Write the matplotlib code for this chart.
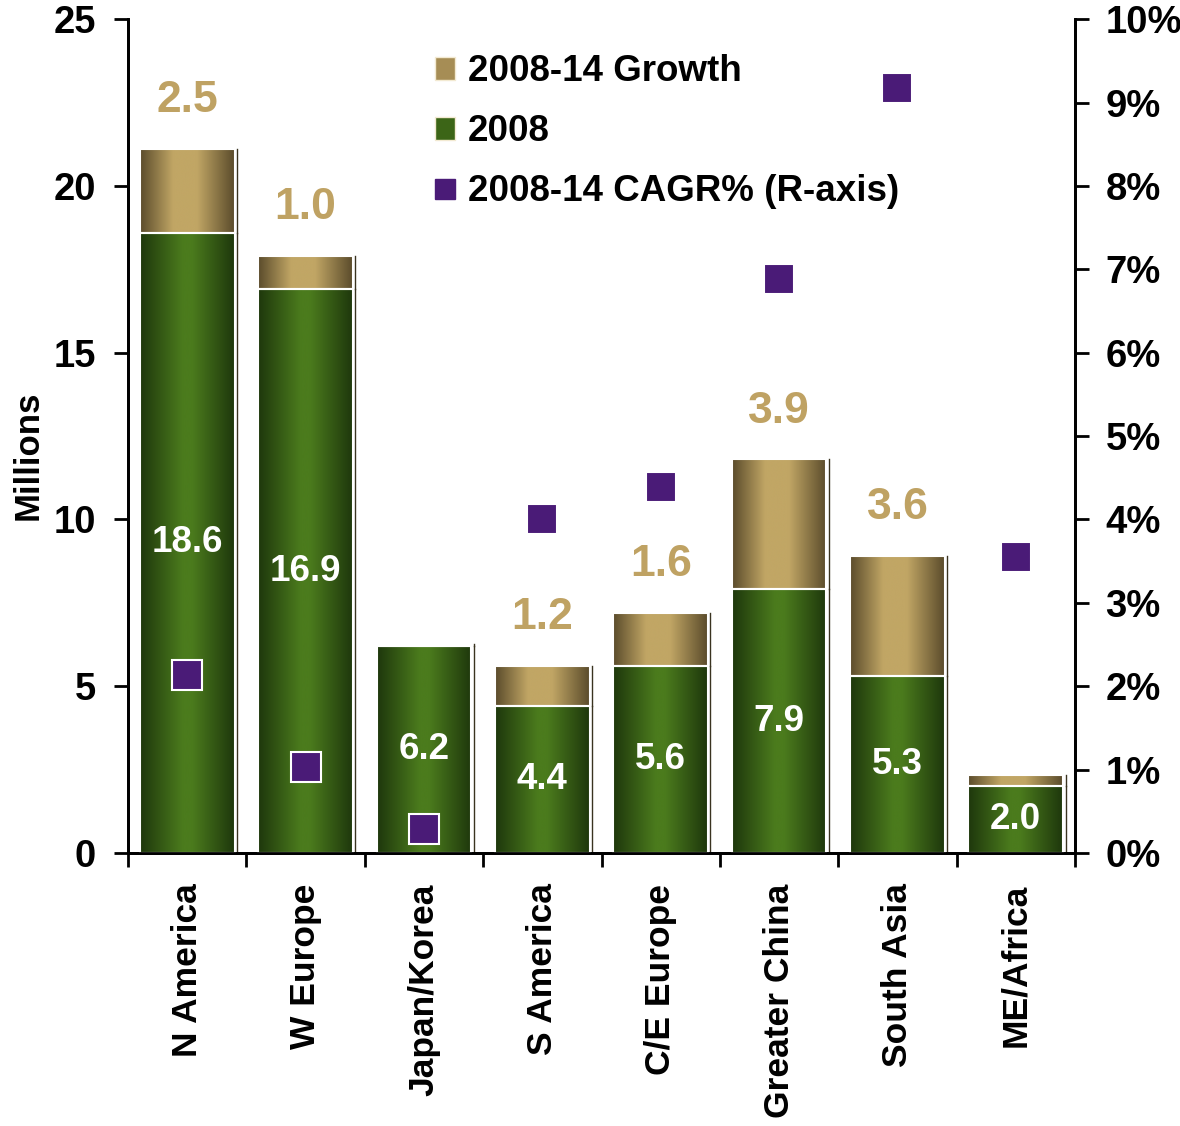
import numpy as np
import matplotlib.pyplot as plt
from matplotlib.colors import LinearSegmentedColormap
from matplotlib.patches import Patch
from matplotlib.lines import Line2D

plt.rcParams['font.family'] = ['Liberation Sans', 'DejaVu Sans']
plt.rcParams['font.weight'] = 'bold'

regions = ['N America', 'W Europe', 'Japan/Korea', 'S America',
           'C/E Europe', 'Greater China', 'South Asia', 'ME/Africa']
base_2008 = [18.6, 16.9, 6.2, 4.4, 5.6, 7.9, 5.3, 2.0]
growth = [2.5, 1.0, 0.05, 1.2, 1.6, 3.9, 3.6, 0.35]
growth_labels = ['2.5', '1.0', '', '1.2', '1.6', '3.9', '3.6', '']
cagr = [2.13, 1.03, 0.29, 4.0, 4.39, 6.88, 9.18, 3.55]

gold_light = '#c1a665'
gold_dark = '#5a4b2b'
green_light = '#4b7b1d'
green_dark = '#1e370c'
purple = '#4a1b77'
label_gold = '#bfa263'

gold_cmap = LinearSegmentedColormap.from_list(
    'gold', [(0, gold_dark), (0.35, gold_light), (0.6, gold_light), (1, gold_dark)])
green_cmap = LinearSegmentedColormap.from_list(
    'green', [(0, green_dark), (0.45, green_light), (0.55, green_light), (1, green_dark)])


def shade_bars(ax, bars, cmap):
    grad = np.linspace(0, 1, 256).reshape(1, -1)
    for b in bars:
        x0, y0 = b.get_x(), b.get_y()
        w, h = b.get_width(), b.get_height()
        im = ax.imshow(grad, cmap=cmap, aspect='auto', zorder=2,
                       extent=[x0, x0 + w, y0, y0 + h], interpolation='bicubic')
        im.set_clip_path(b)
        # thin shadow line on the right side
        ax.plot([x0 + w + 0.02] * 2, [y0, y0 + h], color='#3a3320',
                linewidth=1, zorder=1)


fig = plt.figure(figsize=(11.8, 11.26), dpi=100)
ax = fig.add_axes([0.1085, 0.2425, 0.8025, 0.7405])
ax2 = ax.twinx()

x = np.arange(len(regions))
width = 0.8
bars_base = ax.bar(x, base_2008, width, facecolor='none', edgecolor='white',
                   linewidth=1.5, zorder=3)
bars_growth = ax.bar(x, growth, width, bottom=base_2008, facecolor='none',
                     edgecolor='white', linewidth=1.5, zorder=3)
shade_bars(ax, bars_base, green_cmap)
shade_bars(ax, bars_growth, gold_cmap)

for i in range(len(regions)):
    ax.text(x[i], base_2008[i] / 2, f'{base_2008[i]:.1f}', color='white',
            ha='center', va='center', fontsize=26.5, fontweight='bold', zorder=4)
    if growth_labels[i]:
        top = base_2008[i] + growth[i]
        ax.text(x[i], top + 1.45, growth_labels[i], color=label_gold,
                ha='center', va='center', fontsize=32, fontweight='bold', zorder=4)

ax2.plot(x, cagr, linestyle='none', marker='s', markersize=22,
         markerfacecolor=purple, markeredgecolor='white', markeredgewidth=1.5,
         zorder=5)

ax.set_xlim(-0.5, len(regions) - 0.5)
ax.set_ylim(0, 25)
ax2.set_ylim(0, 10)
ax.set_yticks(np.arange(0, 26, 5))
ax2.set_yticks(np.arange(0, 11, 1))
ax2.set_yticklabels([f'{v}%' for v in range(11)])

ax.set_xticks(x)
ax.set_xticklabels(regions, rotation=90, fontsize=25.5, fontweight='bold')
ax.set_xticks(np.arange(-0.5, len(regions)), minor=True)
ax.tick_params(axis='x', which='major', length=0, pad=22)
ax.tick_params(axis='x', which='minor', length=10, width=2, direction='out')
ax.tick_params(axis='y', length=10, width=2, pad=13, labelsize=27.5)
ax2.tick_params(axis='y', length=10, width=2, pad=12, labelsize=27.5)

for a in (ax, ax2):
    a.spines['top'].set_visible(False)
    for s in ('left', 'right', 'bottom'):
        a.spines[s].set_linewidth(2)

ax.set_ylabel('Millions', fontsize=25, fontweight='bold', va='center')
ax.yaxis.set_label_coords(-0.1056, 0.477)

handles = [Patch(facecolor='#a68d55', edgecolor='#f3ead2'),
           Patch(facecolor='#3c6517', edgecolor='#f3ead2'),
           Line2D([], [], linestyle='none', marker='s', markersize=15,
                  markerfacecolor=purple, markeredgecolor=purple)]
labels = ['2008-14 Growth', '2008', '2008-14 CAGR% (R-axis)']
fig.legend(handles, labels, loc='upper left', bbox_to_anchor=(0.353, 0.968),
           frameon=False, fontsize=26.5, handlelength=0.55, handleheight=0.55,
           handletextpad=0.35, labelspacing=0.68, borderpad=0)

fig.savefig('out.png', dpi=100)
